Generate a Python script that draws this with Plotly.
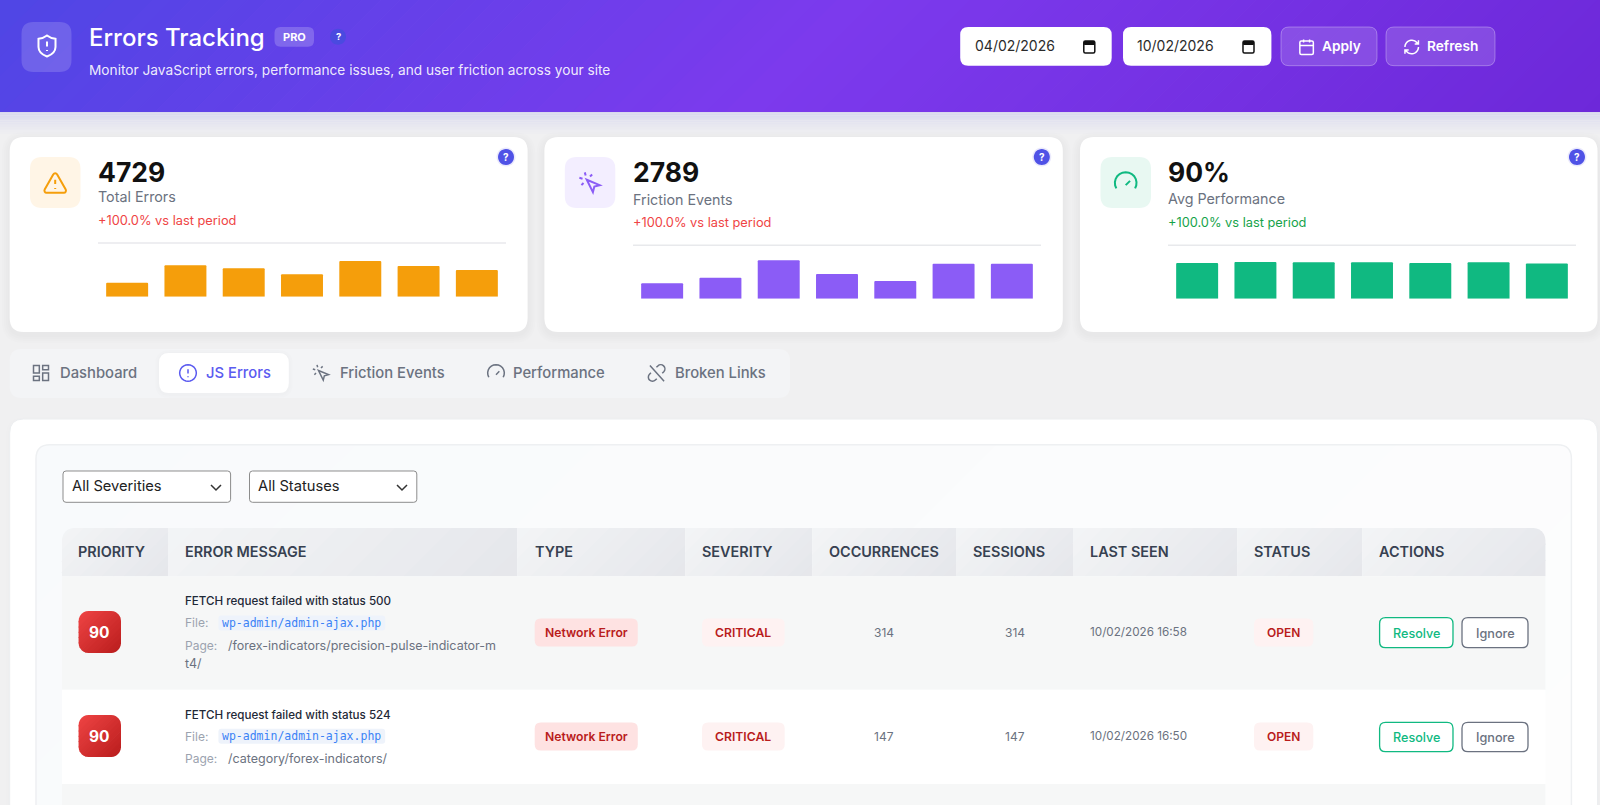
import math
import re
import plotly.graph_objects as go

W, H = 1600, 805
FONT = "Inter, sans-serif"
MONO = "DejaVu Sans Mono, monospace"

DAYS = ["04/02", "05/02", "06/02", "07/02", "08/02", "09/02", "10/02"]
ERROR_COUNTS = [347, 785, 710, 560, 890, 768, 669]
FRICTION_COUNTS = [229, 313, 572, 368, 264, 521, 522]
PERF_SCORES = [89.5, 92, 91, 91, 89.5, 91, 88]

CARD_VALUES = ["4729", "2789", "90%"]
CARD_LABELS = ["Total Errors", "Friction Events", "Avg Performance"]
CARD_DELTAS = ["+100.0% vs last period"] * 3

TAB_LABELS = ["Dashboard", "JS Errors", "Friction Events", "Performance", "Broken Links"]
TABLE_HEADERS = ["PRIORITY", "ERROR MESSAGE", "TYPE", "SEVERITY", "OCCURRENCES",
                 "SESSIONS", "LAST SEEN", "STATUS", "ACTIONS"]
PRIORITIES = ["90", "90"]
MESSAGES = ["FETCH request failed with status 500", "FETCH request failed with status 524"]
FILES = ["wp-admin/admin-ajax.php", "wp-admin/admin-ajax.php"]
PAGES = ["/forex-indicators/precision-pulse-indicator-m", "/category/forex-indicators/"]
OCCURRENCES = ["314", "147"]
SESSIONS = ["314", "147"]
LAST_SEEN = ["10/02/2026 16:58", "10/02/2026 16:50"]

shapes = []
annots = []


def pt(x, y):
    return f"{x / W:.5f},{1 - y / H:.5f}"


def add_path(path, fill=None, line=None, width=1):
    shapes.append(dict(type="path", path=path, xref="paper", yref="paper", layer="below",
                       fillcolor=fill or "rgba(0,0,0,0)",
                       line=dict(color=line or "rgba(0,0,0,0)", width=width if line else 0)))


def rrect_path(x0, y0, x1, y1, r):
    return (f"M{pt(x0 + r, y0)} L{pt(x1 - r, y0)} Q{pt(x1, y0)} {pt(x1, y0 + r)} "
            f"L{pt(x1, y1 - r)} Q{pt(x1, y1)} {pt(x1 - r, y1)} L{pt(x0 + r, y1)} "
            f"Q{pt(x0, y1)} {pt(x0, y1 - r)} L{pt(x0, y0 + r)} Q{pt(x0, y0)} {pt(x0 + r, y0)} Z")


def rrect(x0, y0, x1, y1, r, fill=None, line=None, width=1):
    add_path(rrect_path(x0, y0, x1, y1, r), fill, line, width)


def shadow(x0, y0, x1, y1, r, dy=3, spread=8, alpha=0.008):
    for i in range(spread, 0, -2):
        rrect(x0 - i, y0 - i + dy, x1 + i, y1 + i + dy, r + i, f"rgba(30,30,60,{alpha})")


def circle(cx, cy, r, fill=None, line=None, width=1):
    k = 0.5523 * r
    add_path(f"M{pt(cx + r, cy)} C{pt(cx + r, cy + k)} {pt(cx + k, cy + r)} {pt(cx, cy + r)} "
             f"C{pt(cx - k, cy + r)} {pt(cx - r, cy + k)} {pt(cx - r, cy)} "
             f"C{pt(cx - r, cy - k)} {pt(cx - k, cy - r)} {pt(cx, cy - r)} "
             f"C{pt(cx + k, cy - r)} {pt(cx + r, cy - k)} {pt(cx + r, cy)} Z", fill, line, width)


def hex_mix(stops, t):
    t = min(max(t, 0), 1) * (len(stops) - 1)
    i = min(int(t), len(stops) - 2)
    a, b = stops[i], stops[i + 1]
    rgb = [int(a[j:j + 2], 16) * (1 - t + i) + int(b[j:j + 2], 16) * (t - i) for j in (1, 3, 5)]
    return "#%02x%02x%02x" % tuple(round(v) for v in rgb)


def clip_band(poly, s, keep_above):
    out = []
    for (ax, ay), (bx, by) in zip(poly, poly[1:] + poly[:1]):
        da, db = ax + ay - s, bx + by - s
        if not keep_above:
            da, db = -da, -db
        if da >= 0:
            out.append((ax, ay))
        if da * db < 0:
            f = da / (da - db)
            out.append((ax + (bx - ax) * f, ay + (by - ay) * f))
    return out


def rounded_poly(x0, y0, x1, y1, radii):
    # radii run top left, top right, bottom right, bottom left
    centers = [(x0, y0, 180), (x1, y0, 270), (x1, y1, 0), (x0, y1, 90)]
    sign = [(1, 1), (-1, 1), (-1, -1), (1, -1)]
    poly = []
    for (cx, cy, a), (sx, sy), r in zip(centers, sign, radii):
        steps = 6 if r else 0
        for k in range(steps + 1):
            rad = math.radians(a + 90 * k / max(steps, 1))
            poly.append((cx + sx * r + r * math.cos(rad), cy + sy * r + r * math.sin(rad)))
    return poly


# css style 135deg gradient, drawn as thin diagonal bands
def gradient(x0, y0, x1, y1, stops, n=20, radii=(0, 0, 0, 0)):
    rect = rounded_poly(x0, y0, x1, y1, radii)
    lo, hi = x0 + y0, x1 + y1
    for i in range(n):
        s0 = lo + (hi - lo) * i / n
        s1 = lo + (hi - lo) * (i + 1) / n + 1
        poly = clip_band(clip_band(rect, s0, True), s1, False)
        if len(poly) > 2:
            path = "M" + " L".join(pt(x, y) for x, y in poly) + " Z"
            add_path(path, hex_mix(stops, (i + 0.5) / n))


def arc(cx, cy, r, a0, a1, n=14):
    pts = []
    for i in range(n + 1):
        a = math.radians(a0 + (a1 - a0) * i / n)
        pts.append(f"{'L' if i else 'M'} {cx + r * math.cos(a):.2f} {cy + r * math.sin(a):.2f}")
    return " ".join(pts)


def icon(path, cx, cy, size, color, width=1.8):
    tokens = re.findall(r"[MLCQZ]|-?\d+\.?\d*", path)
    out, nums = [], []
    s = size / 24
    for tok in tokens:
        if tok in "MLCQZ":
            out.append(tok)
        else:
            nums.append(float(tok))
            if len(nums) == 2:
                out.append(pt(cx + (nums[0] - 12) * s, cy + (nums[1] - 12) * s))
                nums = []
    add_path(" ".join(out).replace("M ", "M").replace("L ", "L"), None, color, width)


def txt(x, y, text, size, color, weight=400, anchor="left", family=FONT):
    annots.append(dict(x=x / W, y=1 - y / H, xref="paper", yref="paper", text=text,
                       showarrow=False, xanchor=anchor, yanchor="middle", borderpad=0, borderwidth=0,
                       font=dict(size=size, color=color, family=family, weight=weight)))


def pill(x0, y0, x1, y1, r, label, fill, color, size=12.2, weight=600):
    rrect(x0, y0, x1, y1, r, fill)
    txt((x0 + x1) / 2, (y0 + y1) / 2, label, size, color, weight, "center")


ICON_SHIELD = "M12 1.5 C14.5 3.5 17 4.4 20.5 4.8 L20.5 13 C20.5 18 16 21 12 22.5 C8 21 3.5 18 3.5 13 L3.5 4.8 C7 4.4 9.5 3.5 12 1.5 Z M12 7.5 L12 12.5 M12 16 L12 17"
ICON_WARN = "M21.7 18 L13.7 4 C13 2.7 11 2.7 10.3 4 L2.3 18 C1.6 19.3 2.5 21 4 21 L20 21 C21.5 21 22.4 19.3 21.7 18 Z M12 9 L12 13 M12 16.5 L12 17.5"
ICON_CLICK = "M9 9 L21 14 L16 15.3 L14.7 20.5 Z M14 4.1 L12 6 M5.1 8 L2.2 7.2 M6 12 L4.1 14 M7.2 2.2 L8 5.1"
ICON_GAUGE = "M12 14 L16 10 " + arc(12, 12, 10, 150, 390)
ICON_CIRCLE = arc(12, 12, 10, 0, 360, 24) + " M12 7.5 L12 12.5 M12 16 L12 17"
ICON_DASH = ("M3 3 L10 3 L10 12 L3 12 Z M14 3 L21 3 L21 8 L14 8 Z "
             "M14 12 L21 12 L21 21 L14 21 Z M3 16 L10 16 L10 21 L3 21 Z")
ICON_CAL = "M5 4 L19 4 C20.2 4 21 4.8 21 6 L21 20 C21 21.2 20.2 22 19 22 L5 22 C3.8 22 3 21.2 3 20 L3 6 C3 4.8 3.8 4 5 4 Z M8 2 L8 6 M16 2 L16 6 M3 10 L21 10"
ICON_REFRESH = (arc(12, 12, 9, 180, 310) + " L21 8 M21 3 L21 8 L16 8 "
                + arc(12, 12, 9, 0, 130) + " L3 16 M8 16 L3 16 L3 21")
ICON_UNLINK = ("M18.8 12.3 L20.6 10.5 C22.5 8.5 22.4 5.4 20.4 3.5 C18.5 1.6 15.4 1.6 13.5 3.5 L11.8 5.2 "
               "M5.2 11.8 L3.5 13.5 C1.6 15.4 1.6 18.6 3.6 20.5 C5.5 22.4 8.6 22.4 10.5 20.5 L12.2 18.8 "
               "M4 3 L21 22")

# page header
gradient(0, 0, W, 112, ["#4f46e5", "#7c3aed", "#6d28d9"], 90)
for i in range(14):
    y = 112 + i * 1.7
    shapes.append(dict(type="rect", xref="paper", yref="paper", layer="below", x0=0, x1=1,
                       y0=1 - (y + 1.8) / H, y1=1 - y / H, line=dict(width=0),
                       fillcolor=hex_mix(["#d8d8ee", "#e6e6f0", "#f0f0f1"], i / 13)))

rrect(21.5, 22, 71.5, 72, 12, "rgba(255,255,255,0.16)")
icon(ICON_SHIELD, 47, 46, 24, "white", 2)
txt(89, 37, "Errors Tracking", 24, "white", 500)
rrect(274.5, 27, 314, 46.7, 6, "rgba(255,255,255,0.2)")
txt(294.3, 37, "PRO", 11, "white", 700, "center")
circle(338, 36.7, 8, "#4a4ae0")
txt(338, 36.7, "?", 9.5, "white", 700, "center")
txt(89, 70.3, "Monitor JavaScript errors, performance issues, and user friction across your site", 13.7,
    "rgba(255,255,255,0.9)")

for x0, x1, label, tx, ix in [(960.2, 1111.7, "04/02/2026", 975, 1089.3),
                              (1123, 1271.4, "10/02/2026", 1136.7, 1248.5)]:
    rrect(x0, 27, x1, 65.7, 8, "white")
    txt(tx, 45.7, label, 14, "#2b2b2b")
    rrect(ix - 5.5, 41, ix + 5.5, 53, 1.5, None, "#111111", 1.5)
    rrect(ix - 5.5, 41, ix + 5.5, 45, 1, "#111111")

rrect(1281, 27, 1377, 65.7, 8, "rgba(255,255,255,0.15)", "rgba(255,255,255,0.3)")
icon(ICON_CAL, 1306.6, 47, 18, "white", 1.5)
txt(1321.5, 46.2, "Apply", 13.7, "white", 600)
rrect(1386, 27, 1495, 65.7, 8, "rgba(255,255,255,0.15)", "rgba(255,255,255,0.3)")
icon(ICON_REFRESH, 1411.7, 47, 18, "white", 1.5)
txt(1427, 46.2, "Refresh", 13.7, "white", 600)

# kpi cards
CARD_X = [(9.7, 527.6), (544.4, 1062.8), (1080, 1597.5)]
TILE_X = [30, 564.8, 1100.5]
TILE_FILL = ["#fff5e6", "#f3eeff", "#e8f8f2"]
TILE_ICON = [(ICON_WARN, "#f59e0b"), (ICON_CLICK, "#8b5cf6"), (ICON_GAUGE, "#10b981")]
TEXT_X = [97.5, 632.7, 1168]
LABEL_Y = [196.7, 199, 199]
DELTA_Y = [220.3, 223, 223]
DELTA_COLOR = ["#ef4444", "#ef4444", "#16a34a"]
RULE_Y = [243, 245.3, 245.3]
HELP_X = [506, 1041.8, 1577]
BAR_X = [98, 633, 1168]
BAR_BASE = [296.7, 298.7, 298.7]
BAR_TOP_VALUE = [1250, 745, 125]
BAR_COLOR = ["#f59e0b", "#8b5cf6", "#10b981"]
BAR_SERIES = [ERROR_COUNTS, FRICTION_COUNTS, PERF_SCORES]

for i, (x0, x1) in enumerate(CARD_X):
    shadow(x0, 137, x1, 332, 14)
    rrect(x0, 137, x1, 332, 14, "white")
    rrect(TILE_X[i], 157, TILE_X[i] + 50.5, 208, 12, TILE_FILL[i])
    icon(TILE_ICON[i][0], TILE_X[i] + 25.2, 183, 26, TILE_ICON[i][1], 2)
    txt(TEXT_X[i], 171.7, CARD_VALUES[i], 26.5, "#111111", 700)
    txt(TEXT_X[i], LABEL_Y[i], CARD_LABELS[i], 14.3, "#6b7280")
    txt(TEXT_X[i], DELTA_Y[i], CARD_DELTAS[i], 12.8, DELTA_COLOR[i])
    add_path(f"M{pt(BAR_X[i], RULE_Y[i])} L{pt(BAR_X[i] + 408, RULE_Y[i])}", None, "#e8e9ec", 1.5)
    circle(HELP_X[i], 157, 9.5, "rgba(79,70,229,0.12)")
    circle(HELP_X[i], 157, 8, "#4f52e6")
    txt(HELP_X[i], 157, "?", 10, "white", 700, "center")

# tabs
rrect(9.7, 349, 790, 398, 12, "#f3f4f6")
shadow(159, 353, 288.8, 393, 10, 1, 4)
rrect(159, 353, 288.8, 393, 10, "white")
TAB_ICON = [ICON_DASH, ICON_CIRCLE, ICON_CLICK, ICON_GAUGE, ICON_UNLINK]
TAB_ICON_X = [41, 188, 321, 496, 656.6]
TAB_TEXT_X = [59.5, 206, 340, 513, 674.5]
for i, label in enumerate(TAB_LABELS):
    color = "#5b5bf0" if i == 1 else "#6b7280"
    icon(TAB_ICON[i], TAB_ICON_X[i], 373, 20, color, 1.5)
    txt(TAB_TEXT_X[i], 373, label, 14.8, color, 500)

# table panel
shadow(9.7, 419, 1597.5, 830, 14, 2, 4, 0.005)
rrect(9.7, 419, 1597.5, 830, 14, "white", "#eceef0")
gradient(36, 444.7, 1571.4, 830, ["#f8fafc", "#fdfdfd"], 24, (14, 14, 14, 14))
rrect(36, 444.7, 1571.4, 830, 14, None, "#eef0f2", 1.5)

for x0, x1, label, tx, chev in [(63, 230.6, "All Severities", 72.4, 216), (249.5, 416.8, "All Statuses", 258.2, 402)]:
    rrect(x0, 471, x1, 502.3, 3, "white", "#8c8c8c")
    txt(tx, 486.3, label, 14.7, "#222222")
    add_path(f"M{pt(chev - 5, 485)} L{pt(chev, 490)} L{pt(chev + 5, 485)}", None, "#333333", 1.5)

COL_X = [62, 168.4, 517.3, 685.2, 812.2, 956, 1073, 1237.2, 1362.2, 1545.4]
HEAD_X = [78, 185, 534.7, 702, 829, 973, 1089.8, 1254, 1379]
for i, label in enumerate(TABLE_HEADERS):
    radii = (12 if i == 0 else 0, 12 if i == 8 else 0, 0, 0)
    gradient(COL_X[i], 528, COL_X[i + 1], 576.3, ["#f3f4f6", "#e5e7eb"], 14, radii)
    txt(HEAD_X[i], 551, label, 14.4, "#374151", 600)

ROW_BOUNDS = [(576.3, 689.7, "#f6f7f7"), (689.7, 784, "#ffffff"), (784, 830, "#f6f7f7")]
for y0, y1, fill in ROW_BOUNDS:
    shapes.append(dict(type="rect", xref="paper", yref="paper", layer="below", x0=62 / W, x1=1545.4 / W,
                       y0=1 - y1 / H, y1=1 - y0 / H, fillcolor=fill, line=dict(width=0)))

ROW_MID = [632, 736]
MSG_Y = [601.3, 714.7]
FILE_Y = [622.7, 736]
PAGE_Y = [645.3, 758.7]
BTN_Y = [(617.7, 647.7), (722.3, 751.7)]
for r in range(2):
    mid = ROW_MID[r]
    gradient(78.6, mid - 21, 121, mid + 21, ["#ef4444", "#b91c1c"], 16, (10, 10, 10, 10))
    txt(99, mid, PRIORITIES[r], 15.5, "white", 700, "center")

    txt(185, MSG_Y[r], MESSAGES[r], 11.6, "#1f2937", 500)
    txt(185, FILE_Y[r], "File:", 12, "#9ca3af")
    rrect(218.4, FILE_Y[r] - 7.3, 385.2, FILE_Y[r] + 7.7, 3, "#eef3fb")
    txt(222, FILE_Y[r], FILES[r], 11.5, "#3b82f6", 400, family=MONO)
    txt(185, PAGE_Y[r], "Page:", 12, "#9ca3af")
    txt(228, PAGE_Y[r], PAGES[r], 12.5, "#6b7280")

    pill(534.7, mid - 13.5, 637.8, mid + 14.5, 6, "Network Error", "#fee2e2", "#b91c1c")
    pill(702, mid - 13.5, 784.7, mid + 14.5, 6, "CRITICAL", "#fef2f2", "#b91c1c")
    txt(884, mid, OCCURRENCES[r], 12, "#6b7280", 400, "center")
    txt(1014.8, mid, SESSIONS[r], 12, "#6b7280", 400, "center")
    txt(1089.8, mid, LAST_SEEN[r], 11.7, "#6b7280")
    pill(1254, mid - 13.5, 1313.3, mid + 14.5, 6, "OPEN", "#fef2f2", "#b91c1c", 12, 600)

    y0, y1 = BTN_Y[r]
    rrect(1379.6, y0, 1453, y1, 6, "white", "#10b981", 1.3)
    txt(1416.3, (y0 + y1) / 2 + 0.5, "Resolve", 12.6, "#10b981", 500, "center")
    rrect(1462, y0, 1528, y1, 6, "white", "#6b7280", 1.3)
    txt(1495, (y0 + y1) / 2 + 0.5, "Ignore", 12.7, "#6b7280", 500, "center")
txt(185, 663, "t4/", 12.5, "#6b7280")

fig = go.Figure()
axes = {}
for i, values in enumerate(BAR_SERIES):
    suffix = "" if i == 0 else str(i + 1)
    fig.add_trace(go.Bar(x=DAYS, y=values, marker=dict(color=BAR_COLOR[i], line=dict(width=0)),
                         xaxis=f"x{suffix}", yaxis=f"y{suffix}", showlegend=False, hoverinfo="skip"))
    axes[f"xaxis{suffix}"] = dict(domain=[BAR_X[i] / W, (BAR_X[i] + 408) / W], visible=False,
                                  type="category", range=[-0.5, 6.5], anchor=f"y{suffix}", fixedrange=True)
    axes[f"yaxis{suffix}"] = dict(domain=[1 - BAR_BASE[i] / H, 1 - (BAR_BASE[i] - 50) / H], visible=False,
                                  range=[0, BAR_TOP_VALUE[i]], anchor=f"x{suffix}", fixedrange=True)

fig.update_layout(**axes, width=W, height=H, margin=dict(l=0, r=0, t=0, b=0), bargap=0.28, barcornerradius=1.5,
                  paper_bgcolor="#f0f0f1", plot_bgcolor="rgba(0,0,0,0)", font=dict(family=FONT),
                  shapes=shapes, annotations=annots, hovermode=False)

fig.write_html("out.html", config={"displayModeBar": False},
               post_script="document.body.style.margin='0';document.documentElement.style.overflow='hidden';")
